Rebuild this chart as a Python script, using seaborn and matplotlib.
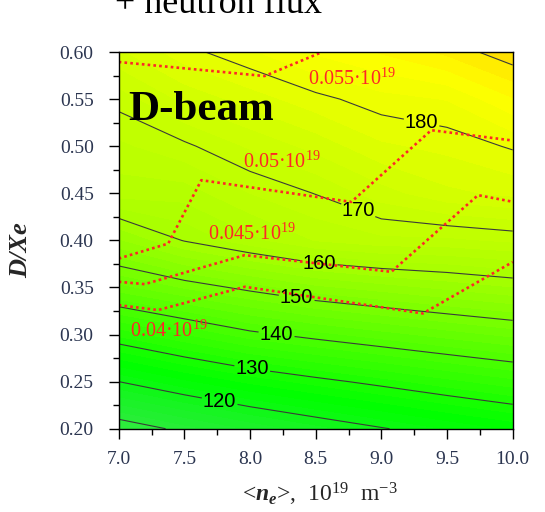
import numpy as np
import matplotlib
matplotlib.use("Agg")
import matplotlib.pyplot as plt
import matplotlib.ticker as mticker
from matplotlib.colors import LinearSegmentedColormap, Normalize
import seaborn as sns

# =============================================================================
# DONNÉES
# =============================================================================

# grille : densité <n_e> (10^19 m^-3) et rapport D/Xe
ne_grid = [7.0, 7.5, 8.0, 8.5, 9.0, 9.5, 10.0]
dxe_grid = [0.20, 0.25, 0.30, 0.35, 0.40, 0.45, 0.50, 0.55, 0.60]

# valeur tracée en noir (une colonne par valeur de n_e, de bas en haut)
val_ne70 = [107.5, 120.0, 132.5, 145.2, 155.7, 164.9, 167.5, 170.9, 175.6]
val_ne75 = [111.0, 123.5, 135.9, 148.2, 160.2, 164.9, 169.5, 174.5, 179.2]
val_ne80 = [114.3, 126.5, 139.1, 150.9, 163.3, 168.0, 172.3, 176.9, 181.7]
val_ne85 = [117.1, 128.9, 141.2, 153.4, 166.1, 170.1, 174.7, 179.3, 184.3]
val_ne90 = [119.7, 131.1, 143.1, 155.0, 167.4, 173.1, 177.6, 181.2, 186.2]
val_ne95 = [122.1, 133.3, 144.9, 156.5, 167.5, 175.5, 178.6, 182.1, 188.5]
val_ne100 = [124.3, 135.3, 146.6, 157.9, 168.4, 176.5, 180.3, 185.8, 191.6]

niveaux_etiquetes = [120, 130, 140, 150, 160, 170, 180]
niveaux_sans_etiquette = [110, 190]

# iso-lignes du flux de neutrons (pointillés rouges)
flux_040_ne = [7.0, 7.30, 7.96, 9.316, 10.0]
flux_040_dxe = [0.3312, 0.326, 0.3507, 0.3224, 0.377]
flux_045_ne = [7.0, 7.198, 7.96, 9.076, 9.736, 10.0]
flux_045_dxe = [0.356, 0.3535, 0.3843, 0.3666, 0.448, 0.441]
flux_050_ne = [7.0, 7.377, 7.629, 8.771, 9.38, 10.0]
flux_050_dxe = [0.3807, 0.3966, 0.4639, 0.4408, 0.517, 0.506]
flux_055_ne = [7.0, 8.111, 8.55]
flux_055_dxe = [0.5894, 0.5745, 0.600]

flux_labels = ["0.04·10$^{19}$", "0.045·10$^{19}$", "0.05·10$^{19}$", "0.055·10$^{19}$"]

# =============================================================================
# STYLE
# =============================================================================

sns.set_style("ticks")
plt.rcParams["font.family"] = ["Liberation Serif", "DejaVu Serif"]
plt.rcParams["mathtext.fontset"] = "custom"
plt.rcParams["mathtext.rm"] = "Liberation Serif"
plt.rcParams["mathtext.it"] = "Liberation Serif:italic"
plt.rcParams["mathtext.bf"] = "Liberation Serif:bold"
plt.rcParams["mathtext.bfit"] = "Liberation Serif:italic:bold"

ROUGE = "#ff2626"
cmap = LinearSegmentedColormap.from_list("vert_jaune", [
    (0.00, "#3ae84a"),
    (0.12, "#1cf22a"),
    (0.23, "#00ff00"),
    (0.46, "#66ff00"),
    (0.62, "#a6ff00"),
    (0.78, "#d0ff00"),
    (0.87, "#f2ff00"),
    (0.91, "#ffff00"),
    (1.00, "#ffd000"),
])

# =============================================================================
# FIGURE
# =============================================================================

Z = np.column_stack([val_ne70, val_ne75, val_ne80, val_ne85,
                     val_ne90, val_ne95, val_ne100])

fig, ax = plt.subplots(figsize=(5.45, 5.12), dpi=100)
fig.subplots_adjust(left=0.2178, right=0.9407, bottom=0.1627, top=0.8984)

ax.contourf(ne_grid, dxe_grid, Z, levels=np.arange(100, 198, 2),
            cmap=cmap, norm=Normalize(104, 194))
ax.contour(ne_grid, dxe_grid, Z, levels=niveaux_sans_etiquette,
           colors="#3a3a3a", linewidths=0.8)
cs = ax.contour(ne_grid, dxe_grid, Z, levels=niveaux_etiquetes,
                colors="#3a3a3a", linewidths=0.8)

positions = [(7.77, 0.230), (8.02, 0.2675), (8.20, 0.298), (8.35, 0.334),
             (8.53, 0.379), (8.83, 0.434), (9.32, 0.535)]
txts = ax.clabel(cs, manual=positions, inline=True,
                 fmt="%d", fontsize=14.5, inline_spacing=3)
for t in txts:
    t.set_rotation(0)
    t.set_fontfamily("Liberation Sans")
    t.set_color("black")

# lignes de flux
for xs, ys in [(flux_040_ne, flux_040_dxe), (flux_045_ne, flux_045_dxe),
               (flux_050_ne, flux_050_dxe), (flux_055_ne, flux_055_dxe)]:
    sns.lineplot(x=xs, y=ys, ax=ax, color=ROUGE, linewidth=1.9,
                 linestyle=(0, (1, 1.2)), estimator=None, sort=False)

# étiquettes du flux
pos_labels = [(7.086, 0.2976), (7.68, 0.4005), (7.946, 0.477), (8.44, 0.565)]
for (x, y), lab in zip(pos_labels, flux_labels):
    ax.text(x, y, lab, color=ROUGE, fontsize=14.5, ha="left", va="baseline")

ax.text(7.07, 0.528, "D-beam", fontsize=31, fontweight="bold",
        ha="left", va="baseline", color="black")

# axes
ax.set_xlim(7.0, 10.0)
ax.set_ylim(0.20, 0.60)
ax.xaxis.set_major_locator(mticker.MultipleLocator(0.5))
ax.xaxis.set_minor_locator(mticker.MultipleLocator(0.25))
ax.yaxis.set_major_locator(mticker.MultipleLocator(0.05))
ax.yaxis.set_minor_locator(mticker.MultipleLocator(0.025))
ax.xaxis.set_major_formatter(mticker.FormatStrFormatter("%.1f"))
ax.yaxis.set_major_formatter(mticker.FormatStrFormatter("%.2f"))
ax.tick_params(which="major", direction="out", length=7, width=1,
               color="black", labelcolor="#2b3550", labelsize=14)
ax.tick_params(axis="y", which="major", pad=11)
ax.tick_params(axis="x", which="major", pad=9)
ax.tick_params(which="minor", direction="out", length=4, width=1, color="black")
for sp in ax.spines.values():
    sp.set_color("black")
    sp.set_linewidth(1)

ax.set_xlabel(r"<$\mathbfit{n}_{\mathbfit{e}}$>,  10$^{19}$  m$^{-3}$", fontsize=17)
ax.xaxis.set_label_coords(0.511, -0.175)
ax.xaxis.label.set_va("center")
ax.set_ylabel("D/Xe", fontsize=19, fontweight="bold", fontstyle="italic")
ax.yaxis.set_label_coords(-0.25, 0.474)
ax.yaxis.label.set_va("center")

fig.text(115 / 545, 1 - 13 / 512, "+ neutron flux", fontsize=26,
         ha="left", va="baseline", color="black")

fig.savefig("out.png", dpi=100)
